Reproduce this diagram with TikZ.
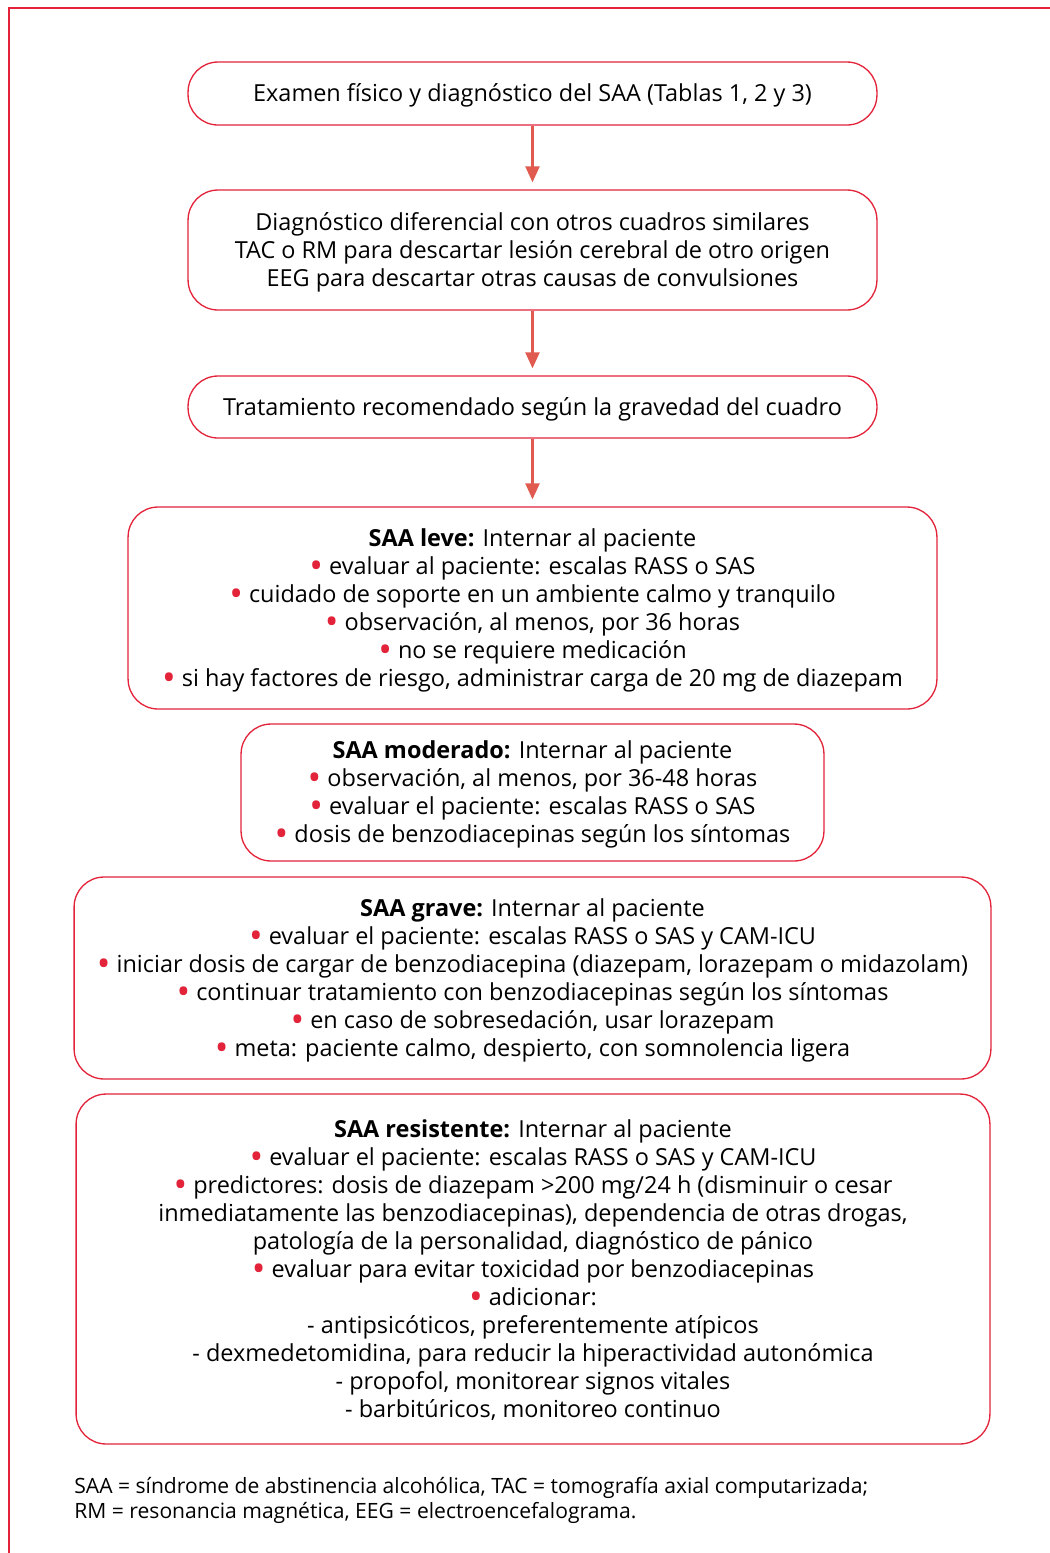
\documentclass[tikz,border=0pt]{standalone}
\usepackage{fontspec}
\usepackage{graphicx}
\setmainfont{Open Sans}
\usetikzlibrary{arrows.meta}
\definecolor{saared}{HTML}{E2233A}
\definecolor{saaarrow}{HTML}{E05A50}
\newcommand{\saabul}{\textcolor{saared}{\smash{\raisebox{-0.17em}{\scalebox{1.55}{\textbullet}}}}\ }
\newcommand{\saatop}{\rule{0pt}{14pt}}
\newcommand{\saabot}{\rule[-4.4pt]{0pt}{4.4pt}}

\begin{document}
\begin{tikzpicture}[x=0.02cm, y=-0.02cm,
    box/.style={draw=saared, line width=0.75pt, rounded corners=0.6cm,
      align=center, inner sep=0pt, font=\fontsize{13.35}{15.94}\selectfont,
      execute at begin node=\saatop, execute at end node=\saabot},
    flow/.style={-{Triangle[length=0.32cm,width=0.28cm]}, draw=saaarrow,
      fill=saaarrow, line width=1.3pt, shorten >=0.14cm}]
    \useasboundingbox (0,0) rectangle (1050,1553);
    \draw[saared, line width=0.75pt] (9,1553) -- (9,8) -- (1050,8);

    \node[box, minimum width=13.78cm, minimum height=1.26cm] (exam) at (532.5,93.5)
      {Examen físico y diagnóstico del SAA (Tablas 1, 2 y 3)};
    \node[box, minimum width=13.78cm, minimum height=2.4cm] (difer) at (532.5,250)
      {\saatop Diagnóstico diferencial con otros cuadros similares\\
       TAC o RM para descartar lesión cerebral de otro origen\\
       EEG para descartar otras causas de convulsiones\saabot};
    \node[box, minimum width=13.78cm, minimum height=1.24cm] (trat) at (532.5,407)
      {Tratamiento recomendado según la gravedad del cuadro};
    \node[box, minimum width=16.18cm, minimum height=4.04cm] (leve) at (532.5,608)
      {\saatop\textbf{SAA leve:} Internar al paciente\\
       \saabul evaluar al paciente: escalas RASS o SAS\\
       \saabul cuidado de soporte en un ambiente calmo y tranquilo\\
       \saabul observación, al menos, por 36 horas\\
       \saabul no se requiere medicación\\
       \saabul si hay factores de riesgo, administrar carga de 20 mg de diazepam\saabot};
    \node[box, minimum width=11.66cm, minimum height=2.74cm] (moder) at (532.5,792.5)
      {\saatop\textbf{SAA moderado:} Internar al paciente\\
       \saabul observación, al menos, por 36-48 horas\\
       \saabul evaluar el paciente: escalas RASS o SAS\\
       \saabul dosis de benzodiacepinas según los síntomas\saabot};
    \node[box, minimum width=18.34cm, minimum height=4.04cm] (grave) at (532.5,978)
      {\saatop\textbf{SAA grave:} Internar al paciente\\
       \saabul evaluar el paciente: escalas RASS o SAS y CAM-ICU\\
       \saabul iniciar dosis de cargar de benzodiacepina (diazepam, lorazepam o midazolam)\\
       \saabul continuar tratamiento con benzodiacepinas según los síntomas\\
       \saabul en caso de sobresedación, usar lorazepam\\
       \saabul meta: paciente calmo, despierto, con somnolencia ligera\saabot};
    \node[box, minimum width=18.28cm, minimum height=7cm] (resist) at (533,1269)
      {\saatop\textbf{SAA resistente:} Internar al paciente\\
       \saabul evaluar el paciente: escalas RASS o SAS y CAM-ICU\\
       \saabul predictores: dosis de diazepam >200 mg/24 h (disminuir o cesar\\
       inmediatamente las benzodiacepinas), dependencia de otras drogas,\\
       patología de la personalidad, diagnóstico de pánico\\
       \saabul evaluar para evitar toxicidad por benzodiacepinas\\
       \saabul adicionar:\\
       - antipsicóticos, preferentemente atípicos\\
       - dexmedetomidina, para reducir la hiperactividad autonómica\\
       - propofol, monitorear signos vitales\\
       - barbitúricos, monitoreo continuo\saabot};
    \node[anchor=north west, align=left, inner sep=0pt,
      font=\fontsize{12}{14.2}\selectfont] (notes) at (74,1477)
      {SAA = síndrome de abstinencia alcohólica, TAC = tomografía axial computarizada;\\
       RM = resonancia magnética, EEG = electroencefalograma.};

    \path
      (exam) edge[flow] (difer)
      (difer) edge[flow] (trat)
      (trat) edge[flow] (leve);
\end{tikzpicture}
\end{document}
